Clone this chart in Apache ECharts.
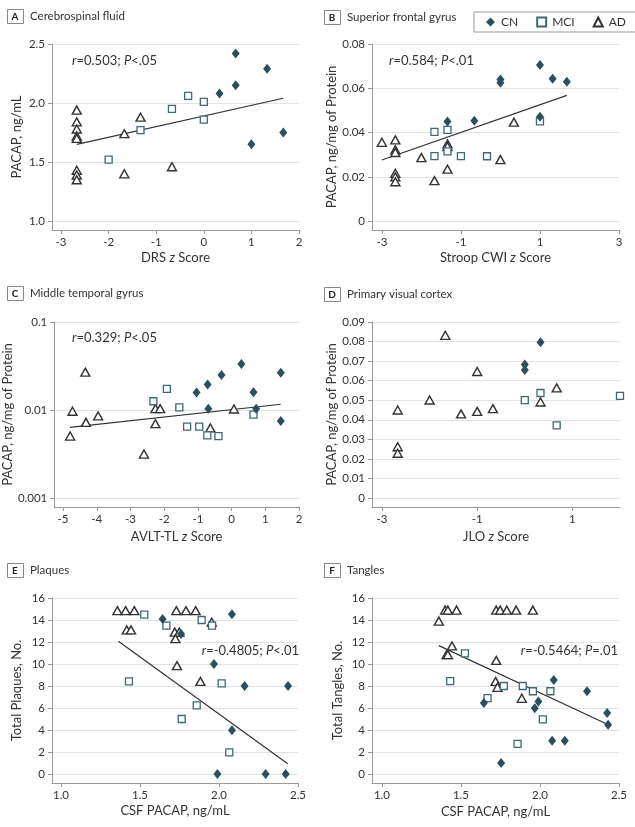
<!DOCTYPE html>
<html><head><meta charset="utf-8">
<script src="https://cdn.jsdelivr.net/npm/echarts@6/dist/echarts.min.js"></script>
<style>html,body{margin:0;padding:0;background:#fff}#c{width:635px;height:827px}</style>
</head><body><div id="c"></div>
<script>
// ---------- DATA ----------
// Panel A: Cerebrospinal fluid (x: DRS z score, y: PACAP ng/mL)
const aCN  = [[0.67,2.42],[0.67,2.15],[0.33,2.08],[1.33,2.29],[1.0,1.65],[1.67,1.75]];
const aMCI = [[-2.0,1.52],[-1.33,1.77],[-0.67,1.95],[-0.33,2.06],[0,2.01],[0,1.86]];
const aAD  = [[-2.67,1.94],[-2.67,1.84],[-2.67,1.78],[-2.67,1.72],[-2.67,1.70],[-2.67,1.43],[-2.67,1.39],[-2.67,1.35],[-1.67,1.74],[-1.67,1.40],[-1.33,1.88],[-0.67,1.46]];
const aFit = [[-2.67,1.65],[1.67,2.04]];
const aXTicks = [-3,-2,-1,0,1,2];
const aYTicks = [1.0,1.5,2.0,2.5];

// Panel B: Superior frontal gyrus (x: Stroop CWI z score)
const bCN  = [[0,0.064],[0,0.0625],[1.0,0.0705],[1.32,0.0643],[1.68,0.063],[1.0,0.0472],[-1.34,0.045],[-0.66,0.0453]];
const bMCI = [[-1.67,0.0403],[-1.34,0.0412],[-1.67,0.0294],[-1.34,0.0315],[-1.0,0.0294],[-0.34,0.0293],[1.0,0.0451]];
const bAD  = [[-3,0.0356],[-2.66,0.0367],[-2.66,0.0322],[-2.66,0.031],[-2.66,0.0216],[-2.66,0.020],[-2.66,0.0178],[-2.0,0.0287],[-1.67,0.0183],[-1.34,0.0349],[-1.34,0.0337],[-1.34,0.0235],[0,0.0278],[0.34,0.0447]];
const bFit = [[-3,0.0276],[1.68,0.0568]];
const bXTicks = [-3,-1,1,3];
const bYTicks = [0,0.02,0.04,0.06,0.08];

// Panel C: Middle temporal gyrus (x: AVLT-TL z score, log y)
const cCN  = [[-1.04,0.0158],[-0.71,0.0195],[-0.30,0.0249],[0.29,0.0332],[1.46,0.0264],[0.65,0.0159],[-0.69,0.0103],[0.73,0.0103],[1.46,0.0075]];
const cMCI = [[-2.32,0.01256],[-1.92,0.0174],[-1.55,0.0107],[-1.32,0.00646],[-0.96,0.00646],[-0.72,0.00514],[-0.39,0.00505],[0.65,0.00885]];
const cAD  = [[-4.79,0.00505],[-4.72,0.00966],[-4.34,0.0269],[-4.32,0.00723],[-3.96,0.00855],[-2.60,0.00315],[-2.26,0.01035],[-2.12,0.01035],[-2.26,0.00698],[-0.63,0.00624],[0.07,0.01026]];
const cFit = [[-4.80,0.00634],[1.46,0.01161]];
const cXTicks = [-5,-4,-3,-2,-1,0,1,2];
const cYTicks = [0.001,0.01,0.1];

// Panel D: Primary visual cortex (x: JLO z score)
const dCN  = [[0,0.0683],[0,0.0654],[0.33,0.0797]];
const dMCI = [[0,0.0501],[0.33,0.0537],[0.67,0.0371],[2.0,0.0522]];
const dAD  = [[-2.67,0.045],[-2.67,0.0262],[-2.67,0.0229],[-2.0,0.0501],[-1.67,0.0832],[-1.34,0.0430],[-1.0,0.0647],[-1.0,0.0443],[-0.67,0.0457],[0.33,0.0491],[0.67,0.0563]];
const dXTicks = [-3,-1,1];
const dYTicks = [0,0.01,0.02,0.03,0.04,0.05,0.06,0.07,0.08,0.09];

// Panel E: Plaques (x: CSF PACAP ng/mL)
const eCN  = [[1.643,14.1],[1.76,12.73],[2.082,14.52],[1.968,10.0],[2.162,8.0],[2.437,8.0],[2.082,3.97],[1.99,0],[2.295,0],[2.422,0]];
const eMCI = [[1.527,14.48],[1.667,13.48],[1.89,14.0],[1.956,13.48],[1.43,8.42],[2.017,8.24],[1.859,6.24],[1.764,5.0],[2.065,1.97]];
const eAD  = [[1.357,14.85],[1.409,14.85],[1.464,14.85],[1.416,13.1],[1.443,13.1],[1.73,14.85],[1.791,14.85],[1.852,14.85],[1.954,13.8],[1.72,12.9],[1.749,12.9],[1.724,12.3],[1.734,9.85],[1.882,8.42]];
const eFit = [[1.363,12.06],[2.435,0.94]];
const efXTicks = [1.0,1.5,2.0,2.5];
const efYTicks = [0,2,4,6,8,10,12,14,16];

// Panel F: Tangles
const fCN  = [[1.645,6.45],[1.754,1.0],[1.967,5.97],[1.99,6.6],[2.087,8.55],[2.077,3.03],[2.157,3.03],[2.298,7.52],[2.425,5.55],[2.431,4.48]];
const fMCI = [[1.525,10.97],[1.432,8.45],[1.668,6.9],[1.771,8.0],[1.891,8.0],[1.955,7.52],[2.066,7.52],[2.018,4.97],[1.858,2.73]];
const fAD  = [[1.36,13.9],[1.40,14.9],[1.417,14.9],[1.472,14.9],[1.443,11.64],[1.409,10.85],[1.417,10.85],[1.723,14.9],[1.748,14.9],[1.79,14.9],[1.849,14.9],[1.955,14.9],[1.723,10.33],[1.719,8.42],[1.731,7.88],[1.885,6.88]];
const fFit = [[1.36,11.67],[2.433,4.48]];

const groupNames = ['CN','MCI','AD'];
const panelLetters = ['A','B','C','D','E','F'];
const panelTitles = ['Cerebrospinal fluid','Superior frontal gyrus','Middle temporal gyrus','Primary visual cortex','Plaques','Tangles'];
const xTitles = ['DRS {it|z} Score','Stroop CWI {it|z} Score','AVLT-TL {it|z} Score','JLO {it|z} Score','CSF PACAP, ng/mL','CSF PACAP, ng/mL'];
const yTitles = ['PACAP, ng/mL','PACAP, ng/mg of Protein','PACAP, ng/mg of Protein','PACAP, ng/mg of Protein','Total Plaques, No.','Total Tangles, No.'];
const statTexts = ['{it|r}=0.503; {it|P}<.05','{it|r}=0.584; {it|P}<.01','{it|r}=0.329; {it|P}<.05','','{it|r}=-0.4805; {it|P}<.01','{it|r}=-0.5464; {it|P}=.01'];

// ---------- STYLE / LAYOUT ----------
const FONT = 'Lato';
const TXT = '#333';
const AX = '#9a9a9a';
const grids = [
  {left:52, top:44, width:247, height:186},
  {left:372, top:44, width:247, height:186},
  {left:52, top:322, width:247, height:185},
  {left:372, top:322, width:248, height:185},
  {left:52, top:598, width:246, height:185},
  {left:372, top:598, width:247, height:185}
];
const xRanges = [[-3.19,2],[-3.25,3],[-5.26,2],[-3.21,2],[0.943,2.5],[0.937,2.5]];
const yRanges = [[0.924,2.5],[-0.004,0.08],[0.000788,0.1],[-0.0046,0.09],[-0.82,16],[-0.82,16]];
const xTicksAll = [aXTicks,bXTicks,cXTicks,dXTicks,efXTicks,efXTicks];
const yTicksAll = [aYTicks,bYTicks,cYTicks,dYTicks,efYTicks,efYTicks];
const xFmt = [v=>String(v), v=>String(v), v=>String(v), v=>String(v), v=>v.toFixed(1), v=>v.toFixed(1)];
const yFmt = [v=>v.toFixed(1), v=>String(v), v=>String(v), v=>String(v), v=>String(v), v=>String(v)];
const xNameGap = [21,21,23,23,21,22];
const yNameGap = [29,34,32,34,29,28];
const titlePos = [[7,9],[324,10],[7,286],[324,287],[7,563],[324,563]];
const statPos = [[72,61,'left'],[389,61,'left'],[72,338,'left'],null,[299,651,'right'],[618,651,'right']];

const CN_COLOR = '#2b4f5e';
const MCI_COLOR = '#3f6875';
const AD_COLOR = '#333333';

const panelData = [
  [aCN,aMCI,aAD,aFit],[bCN,bMCI,bAD,bFit],[cCN,cMCI,cAD,cFit],
  [dCN,dMCI,dAD,null],[eCN,eMCI,eAD,eFit],[fCN,fMCI,fAD,fFit]
];

const xAxis = [], yAxis = [], series = [], graphic = [];
grids.forEach((g,i)=>{
  xAxis.push({
    type:'value', gridIndex:i, min:xRanges[i][0], max:xRanges[i][1],
    name:xTitles[i], nameLocation:'middle', nameGap:xNameGap[i],
    nameTextStyle:{fontFamily:FONT,fontSize:13,color:TXT,verticalAlign:'top',
      rich:{it:{fontFamily:FONT,fontSize:13,color:TXT,fontStyle:'italic'}}},
    axisLine:{show:true,onZero:false,lineStyle:{color:AX,width:1}},
    axisTick:{show:true,length:4,customValues:xTicksAll[i],lineStyle:{color:AX}},
    axisLabel:{customValues:xTicksAll[i],formatter:xFmt[i],fontFamily:FONT,fontSize:11.5,color:TXT,margin:6},
    splitLine:{show:false}
  });
  yAxis.push({
    type: i===2 ? 'log' : 'value', logBase:10, gridIndex:i, min:yRanges[i][0], max:yRanges[i][1],
    name:yTitles[i], nameLocation:'middle', nameGap:yNameGap[i],
    nameTextStyle:{fontFamily:FONT,fontSize:13,color:TXT},
    axisLine:{show:true,onZero:false,lineStyle:{color:AX,width:1}},
    axisTick:{show:true,length:4,customValues:yTicksAll[i],lineStyle:{color:AX}},
    axisLabel:{customValues:yTicksAll[i],formatter:yFmt[i],fontFamily:FONT,fontSize:11.5,color:TXT,margin:7},
    splitLine:{show:true,lineStyle:{color:'#e2e2e2',width:1}}
  });
  const [cn,mci,ad,fit] = panelData[i];
  series.push({name:'AD',type:'scatter',xAxisIndex:i,yAxisIndex:i,data:ad,symbol:'triangle',symbolSize:[9,8],
    itemStyle:{color:'#ffffff',borderColor:AD_COLOR,borderWidth:1.4,opacity:1},z:3});
  series.push({name:'MCI',type:'scatter',xAxisIndex:i,yAxisIndex:i,data:mci,symbol:'rect',symbolSize:7,
    itemStyle:{color:'#ffffff',borderColor:MCI_COLOR,borderWidth:1.3,opacity:1},z:3});
  series.push({name:'CN',type:'scatter',xAxisIndex:i,yAxisIndex:i,data:cn,symbol:'diamond',symbolSize:[8,10],
    itemStyle:{color:CN_COLOR,opacity:1},z:4});
  if (fit) series.push({name:'fit'+i,type:'line',xAxisIndex:i,yAxisIndex:i,data:fit,showSymbol:false,symbol:'none',
    lineStyle:{color:'#333',width:1.2},silent:true,z:2});

  const [tx,ty] = titlePos[i];
  graphic.push({type:'rect',left:tx,top:ty,shape:{width:16,height:14},style:{fill:'#fff',stroke:'#888',lineWidth:1}});
  graphic.push({type:'text',x:tx+8,y:ty+7.5,style:{text:panelLetters[i],fontFamily:FONT,fontSize:10,fontWeight:'bold',fill:'#222',align:'center',verticalAlign:'middle'}});
  graphic.push({type:'text',x:tx+23,y:ty+7,style:{text:panelTitles[i],fontFamily:FONT,fontSize:11.5,fill:TXT,align:'left',verticalAlign:'middle'}});
  if (statPos[i]) {
    const [sx,sy,al] = statPos[i];
    graphic.push({type:'text',x:sx,y:sy,style:{text:statTexts[i],fontFamily:FONT,fontSize:13,fill:TXT,align:al,verticalAlign:'middle',
      rich:{it:{fontFamily:FONT,fontSize:13,fill:TXT,fontStyle:'italic'}}}});
  }
});

const chart = echarts.init(document.getElementById('c'),null,{renderer:'canvas'});
chart.setOption({
  animation:false,
  backgroundColor:'#fff',
  textStyle:{fontFamily:FONT},
  grid:grids.map(g=>Object.assign({containLabel:false},g)),
  xAxis, yAxis, series, graphic,
  legend:{
    left:474, top:12, width:145, height:18,
    data:groupNames,
    orient:'horizontal', itemGap:18, itemWidth:9, itemHeight:9,
    borderColor:'#999', borderWidth:1, borderRadius:0, padding:[4,10,4,12],
    textStyle:{fontFamily:FONT,fontSize:12,color:TXT,padding:[0,0,0,1]},
    selectedMode:false
  }
});
</script></body></html>
